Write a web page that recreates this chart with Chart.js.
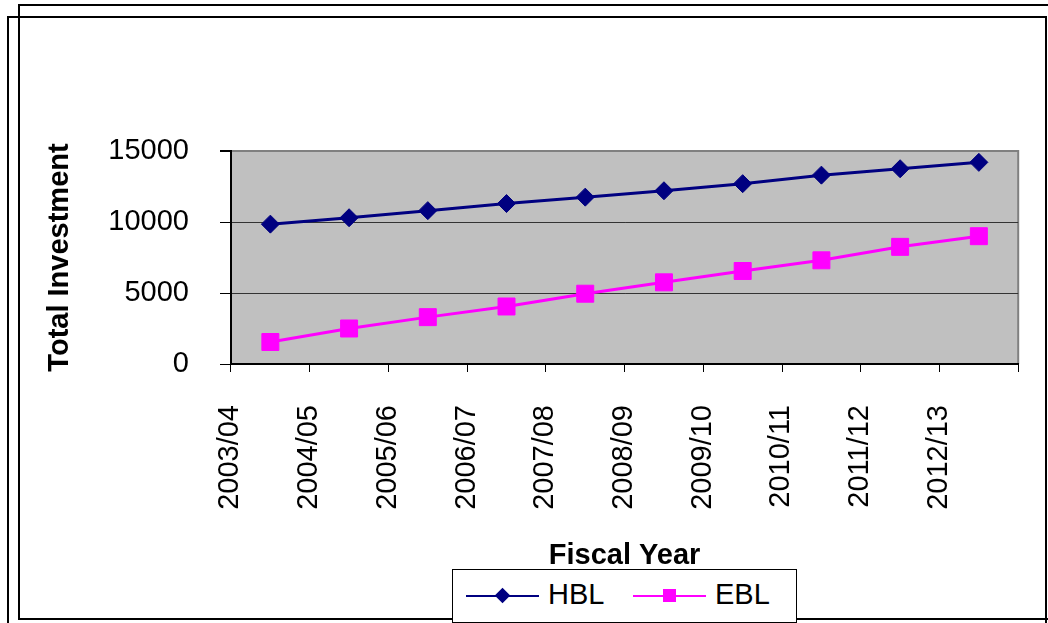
<!DOCTYPE html>
<html>
<head>
<meta charset="utf-8">
<script src="https://cdn.jsdelivr.net/npm/chart.js@4"></script>
<style>
    body { margin: 0; background: #fff; font-family: Arial, "Liberation Sans", sans-serif; }
    #wrap { position: relative; width: 1048px; height: 623px; overflow: hidden; }
    #grafico { position: absolute; left: 0; top: 0; }
    .cornice { position: absolute; border: 2px solid #000; pointer-events: none; }
    #legenda { position: absolute; left: 452px; top: 569px; width: 343px; height: 52px;
        background: #fff; border: 1px solid #000; font-size: 29px; }
    .voce { position: absolute; top: 0; height: 52px; }
    .linea { position: absolute; top: 25px; width: 73px; height: 2px; }
    .marker { position: absolute; }
    .testo { position: absolute; top: 8px; line-height: 32px; color: #000; }
</style>
</head>
<body>
<div id="wrap">
    <canvas id="grafico" width="1048" height="623"></canvas>
    <div class="cornice" style="left:18px; top:4px; width:1040px; height:612px;"></div>
    <div class="cornice" style="left:7px; top:16px; width:1036px; height:620px;"></div>
    <div id="legenda"></div>
</div>
<script>
const anniFiscali = ['2003/04', '2004/05', '2005/06', '2006/07', '2007/08',
    '2008/09', '2009/10', '2010/11', '2011/12', '2012/13'];
const valoriHBL = [9850, 10300, 10800, 11300, 11750, 12200, 12700, 13300, 13750, 14200];
const valoriEBL = [1550, 2500, 3300, 4050, 4950, 5750, 6550, 7300, 8250, 9000];
const tickAsseY = [0, 5000, 10000, 15000];

const FONT = 'Arial, "Liberation Sans", sans-serif';

// sfondo grigio dell'area del grafico + bordo superiore/destro
const sfondoArea = {
    id: 'sfondoArea',
    beforeDraw(chart) {
        const { ctx, chartArea: a } = chart;
        ctx.save();
        ctx.fillStyle = '#C0C0C0';
        ctx.fillRect(a.left, a.top, a.right - a.left, a.bottom - a.top);
        ctx.strokeStyle = '#808080';
        ctx.lineWidth = 2;
        ctx.beginPath();
        ctx.moveTo(a.left, a.top);
        ctx.lineTo(a.right, a.top);
        ctx.lineTo(a.right, a.bottom);
        ctx.stroke();
        ctx.restore();
    }
};

const ctx = document.getElementById('grafico').getContext('2d');
const grafico = new Chart(ctx, {
    type: 'line',
    data: {
        labels: anniFiscali,
        datasets: [{
            label: 'HBL',
            data: valoriHBL,
            borderColor: '#000080',
            backgroundColor: '#000080',
            borderWidth: 3,
            pointStyle: 'rectRot',
            pointRadius: 9,
            pointBorderWidth: 1
        }, {
            label: 'EBL',
            data: valoriEBL,
            borderColor: '#FF00FF',
            backgroundColor: '#FF00FF',
            borderWidth: 3,
            pointStyle: 'rect',
            pointRadius: 12,
            pointBorderWidth: 1
        }]
    },
    options: {
        responsive: false,
        animation: false,
        layout: { padding: { left: 0, top: 151, right: 27, bottom: 50 } },
        plugins: {
            legend: { display: false },
            tooltip: { enabled: false }
        },
        scales: {
            x: {
                offset: true,
                afterFit(scale) { scale.height = 209; },
                grid: {
                    offset: true,
                    drawOnChartArea: false,
                    drawTicks: true,
                    tickLength: 8,
                    tickColor: '#000'
                },
                border: { color: '#000', width: 2 },
                ticks: {
                    maxRotation: 90,
                    minRotation: 90,
                    padding: 33,
                    labelOffset: -40,
                    color: '#000',
                    font: { family: FONT, size: 29 }
                },
                title: {
                    display: true,
                    text: 'Fiscal Year',
                    color: '#000',
                    padding: 0,
                    font: { family: FONT, size: 29, weight: 'bold' }
                }
            },
            y: {
                min: 0,
                max: 15000,
                afterFit(scale) { scale.width = 231; },
                afterBuildTicks(scale) { scale.ticks = tickAsseY.map(v => ({ value: v })); },
                grid: {
                    color: c => c.tick && c.tick.value === 15000 ? '#808080' : (c.tick && c.tick.value === 0 ? 'rgba(0,0,0,0)' : '#333'),
                    lineWidth: c => c.tick && c.tick.value === 15000 ? 2 : 1,
                    tickLength: 11,
                    tickColor: '#000'
                },
                border: { color: '#000', width: 2 },
                ticks: {
                    padding: 31,
                    color: '#000',
                    font: { family: FONT, size: 29 },
                    callback: v => String(v)
                },
                title: {
                    display: true,
                    text: 'Total Investment',
                    color: '#000',
                    padding: { top: 43, bottom: 0 },
                    font: { family: FONT, size: 29, weight: 'bold' }
                }
            }
        }
    },
    plugins: [sfondoArea]
});

// legenda HTML: linea con marcatore al centro, come nell'originale
function creaLegenda(chart) {
    const box = document.getElementById('legenda');
    const posizioni = [{ linea: 13, testo: 95 }, { linea: 180, testo: 262 }];
    chart.data.datasets.forEach((ds, i) => {
        const p = posizioni[i];
        const voce = document.createElement('div');
        voce.className = 'voce';
        voce.style.left = '0px';
        const linea = document.createElement('div');
        linea.className = 'linea';
        linea.style.left = p.linea + 'px';
        linea.style.background = ds.borderColor;
        const m = document.createElement('div');
        m.className = 'marker';
        m.style.background = ds.backgroundColor;
        if (ds.pointStyle === 'rectRot') {
            m.style.width = '11px'; m.style.height = '11px';
            m.style.left = (p.linea + 31) + 'px'; m.style.top = '20px';
            m.style.transform = 'rotate(45deg)';
        } else {
            m.style.width = '13px'; m.style.height = '13px';
            m.style.left = (p.linea + 30) + 'px'; m.style.top = '19px';
        }
        const t = document.createElement('div');
        t.className = 'testo';
        t.style.left = p.testo + 'px';
        t.textContent = ds.label;
        voce.appendChild(linea);
        voce.appendChild(m);
        voce.appendChild(t);
        box.appendChild(voce);
    });
}
creaLegenda(grafico);
</script>
</body>
</html>
